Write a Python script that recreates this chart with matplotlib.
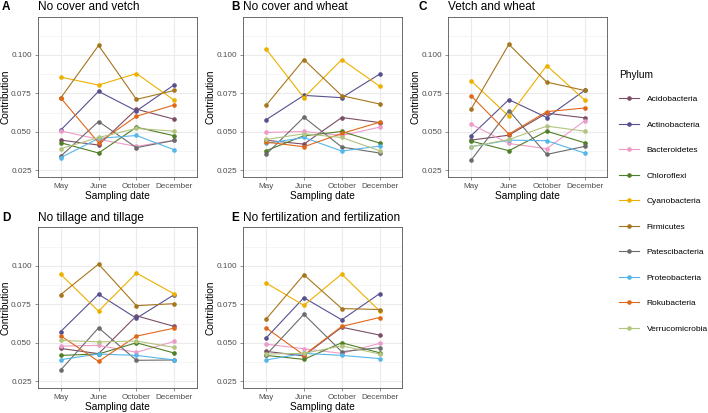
import matplotlib
matplotlib.use("Agg")
import matplotlib.pyplot as plt
from matplotlib.lines import Line2D

plt.rcParams['font.family'] = ['Liberation Sans', 'DejaVu Sans']

months = ['May', 'June', 'October', 'December']
phyla = ['Acidobacteria', 'Actinobacteria', 'Bacteroidetes', 'Chloroflexi',
         'Cyanobacteria', 'Firmicutes', 'Patescibacteria', 'Proteobacteria',
         'Rokubacteria', 'Verrucomicrobia']
colors = ['#7C4E66', '#56508F', '#EE9BC8', '#4F7F26', '#EDB000',
          '#A6761D', '#6B6B6B', '#55B6EA', '#E0671A', '#B2C47E']

panel_letters = ['A', 'B', 'C', 'D', 'E']
panel_titles = ['No cover and vetch', 'No cover and wheat', 'Vetch and wheat',
                'No tillage and tillage', 'No fertilization and fertilization']

# contribution per phylum (rows follow `phyla`), columns follow `months`
cover_vetch = [
    [0.0446, 0.0414, 0.0647, 0.0582],
    [0.0511, 0.0763, 0.0636, 0.0806],
    [0.0506, 0.0451, 0.0405, 0.0445],
    [0.0429, 0.0362, 0.0530, 0.0474],
    [0.0856, 0.0804, 0.0879, 0.0705],
    [0.0720, 0.1062, 0.0711, 0.0769],
    [0.0341, 0.0567, 0.0397, 0.0444],
    [0.0332, 0.0457, 0.0476, 0.0383],
    [0.0720, 0.0429, 0.0601, 0.0675],
    [0.0390, 0.0463, 0.0522, 0.0504],
]
cover_wheat = [
    [0.0445, 0.0420, 0.0593, 0.0560],
    [0.0578, 0.0737, 0.0722, 0.0875],
    [0.0496, 0.0502, 0.0476, 0.0530],
    [0.0377, 0.0474, 0.0502, 0.0427],
    [0.1039, 0.0722, 0.0970, 0.0797],
    [0.0672, 0.0970, 0.0735, 0.0681],
    [0.0353, 0.0595, 0.0401, 0.0362],
    [0.0424, 0.0463, 0.0375, 0.0407],
    [0.0433, 0.0403, 0.0489, 0.0562],
    [0.0450, 0.0487, 0.0463, 0.0377],
]
vetch_wheat = [
    [0.0446, 0.0478, 0.0621, 0.0591],
    [0.0474, 0.0709, 0.0593, 0.0769],
    [0.0550, 0.0424, 0.0390, 0.0571],
    [0.0440, 0.0377, 0.0504, 0.0429],
    [0.0832, 0.0601, 0.0931, 0.0707],
    [0.0647, 0.1069, 0.0823, 0.0769],
    [0.0315, 0.0638, 0.0353, 0.0405],
    [0.0403, 0.0446, 0.0442, 0.0362],
    [0.0735, 0.0485, 0.0631, 0.0655],
    [0.0403, 0.0450, 0.0537, 0.0504],
]
tillage = [
    [0.0463, 0.0429, 0.0675, 0.0606],
    [0.0573, 0.0815, 0.0659, 0.0813],
    [0.0478, 0.0483, 0.0438, 0.0509],
    [0.0418, 0.0427, 0.0500, 0.0433],
    [0.0944, 0.0705, 0.0953, 0.0817],
    [0.0813, 0.1011, 0.0741, 0.0754],
    [0.0323, 0.0597, 0.0386, 0.0388],
    [0.0390, 0.0427, 0.0418, 0.0388],
    [0.0545, 0.0379, 0.0543, 0.0595],
    [0.0515, 0.0506, 0.0511, 0.0470],
]
fertilization = [
    [0.0444, 0.0415, 0.0601, 0.0550],
    [0.0530, 0.0793, 0.0649, 0.0819],
    [0.0491, 0.0461, 0.0431, 0.0496],
    [0.0418, 0.0392, 0.0500, 0.0435],
    [0.0888, 0.0743, 0.0946, 0.0707],
    [0.0653, 0.0942, 0.0722, 0.0716],
    [0.0420, 0.0685, 0.0442, 0.0468],
    [0.0388, 0.0431, 0.0418, 0.0397],
    [0.0597, 0.0420, 0.0606, 0.0664],
    [0.0427, 0.0431, 0.0480, 0.0427],
]
panels = [cover_vetch, cover_wheat, vetch_wheat, tillage, fertilization]

W, H = 708, 413
fig = plt.figure(figsize=(W / 100, H / 100), dpi=100)

# panel boxes in pixels: left, top, width, height
boxes = [(38, 16.5, 159, 160.2), (243.3, 16.5, 159, 160.2), (448.3, 16.5, 159, 160.2),
         (38, 227.3, 159, 160.4), (243.3, 227.3, 159, 160.4)]
letter_x = [2, 231, 418, 2, 231]

x = list(range(1, len(months) + 1))
for data, letter, lx, title, (l, t, w, h) in zip(panels, panel_letters, letter_x,
                                                 panel_titles, boxes):
    ax = fig.add_axes([l / W, 1 - (t + h) / H, w / W, h / H])
    for vals, c in zip(data, colors):
        ax.plot(x, vals, color=c, lw=0.8, marker='o', ms=2.3, zorder=3)
    ax.set_xlim(0.4, 4.6)
    ax.set_ylim(0.0208, 0.125)
    ax.set_xticks(x)
    ax.set_xticklabels(months)
    ax.set_yticks([0.025, 0.050, 0.075, 0.100])
    ax.set_yticklabels(['0.025', '0.050', '0.075', '0.100'])
    ax.set_yticks([0.0375, 0.0625, 0.0875, 0.1125], minor=True)
    ax.grid(True, which='major', color='#EBEBEB', lw=0.8, zorder=0)
    ax.grid(True, which='minor', axis='y', color='#F2F2F2', lw=0.5, zorder=0)
    ax.set_axisbelow(True)
    ax.tick_params(axis='both', which='major', labelsize=5.9, colors='#666666',
                   labelcolor='#4D4D4D', length=2.5, width=0.5, pad=2)
    ax.tick_params(axis='y', which='minor', length=0)
    for s in ax.spines.values():
        s.set_color('#555555')
        s.set_linewidth(0.6)
    ax.set_xlabel('Sampling date', fontsize=7.3, labelpad=1)
    ax.set_ylabel('Contribution', fontsize=7.3)
    ax.yaxis.set_label_coords(-27.5 / w, 0.5)
    base = 1 - (t - 6.5) / H
    fig.text(l / W, base, title, fontsize=8.5, ha='left', va='baseline')
    fig.text(lx / W, base, letter, fontsize=8.5, fontweight='bold',
             ha='left', va='baseline')

fig.text(619 / W, 1 - 75.3 / H, 'Phylum', fontsize=7.3, ha='left', va='center')
handles = [Line2D([], [], color=c, lw=0.8, marker='o', ms=2.3) for c in colors]
leg = fig.legend(handles, phyla, loc='upper left',
                 bbox_to_anchor=(619 / W, 1 - 95.5 / H), frameon=False,
                 fontsize=6, handlelength=2.4,
                 labelspacing=2.12, handletextpad=0.9, borderaxespad=0,
                 borderpad=0)

fig.savefig('out.png', dpi=100)
